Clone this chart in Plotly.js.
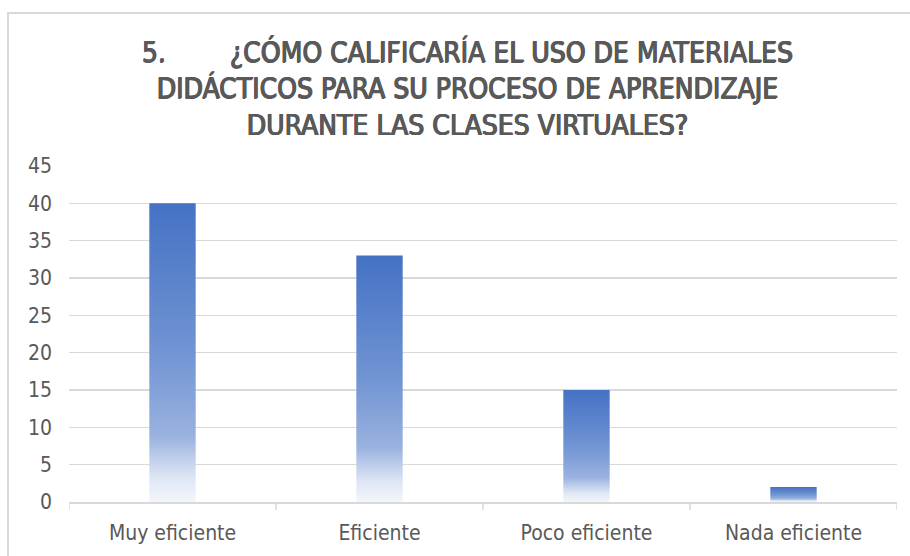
<!DOCTYPE html>
<html>
<head>
<meta charset="utf-8">
<script src="https://cdn.plot.ly/plotly-3.0.1.min.js"></script>
<style>
  html, body { margin: 0; padding: 0; background: #ffffff; }
  #wrap { position: relative; width: 910px; height: 556px; overflow: hidden; }
  #chart { position: absolute; left: 0; top: 0; width: 910px; height: 556px; }
  #frame { position: absolute; left: 7px; top: 12px; width: 920px; height: 560px;
           border-left: 2px solid #d9d9d9; border-top: 2px solid #d9d9d9; pointer-events: none; }
</style>
</head>
<body>
<div id="wrap">
  <div id="chart"></div>
  <div id="frame"></div>
</div>
<script>
const categories = ["Muy eficiente", "Eficiente", "Poco eficiente", "Nada eficiente"];
const values = [40, 33, 15, 2];
const yTicks = [0, 5, 10, 15, 20, 25, 30, 35, 40, 45];
const titleText = "5.\u00a0\u00a0\u00a0\u00a0\u00a0\u00a0\u00a0\u00a0¿CÓMO CALIFICARÍA EL USO DE MATERIALES<br>DIDÁCTICOS PARA SU PROCESO DE APRENDIZAJE<br>DURANTE LAS CLASES VIRTUALES?";

const halfWidth = 0.112;
const gradientScale = [[0, '#f3f6fb'], [0.08, '#dfe7f5'], [0.22, '#9ab2df'], [0.5, '#7194d3'], [1, '#4472c4']];
const fontFam = '"DejaVu Sans Condensed", "Liberation Sans", sans-serif';

const traces = values.map((v, i) => ({
  type: 'scatter',
  mode: 'lines',
  x: [i - halfWidth, i - halfWidth, i + halfWidth, i + halfWidth, i - halfWidth],
  y: [0, v, v, 0, 0],
  fill: 'toself',
  fillgradient: { type: 'vertical', colorscale: gradientScale },
  line: { width: 0, color: 'rgba(0,0,0,0)' },
  hoverinfo: 'skip',
  showlegend: false,
  name: categories[i]
}));

const boundaryTicks = [];
for (let i = 0; i <= categories.length; i++) {
  boundaryTicks.push({
    type: 'line', xref: 'x', yref: 'paper',
    x0: i - 0.5, x1: i - 0.5, y0: 0, y1: -0.024,
    line: { color: '#d9d9d9', width: 1.5 }
  });
}

const layout = {
  width: 910, height: 556,
  paper_bgcolor: 'rgba(0,0,0,0)',
  plot_bgcolor: 'rgba(0,0,0,0)',
  margin: { l: 69, r: 13, t: 166, b: 54 },
  font: { family: fontFam, color: '#595959' },
  title: {
    text: titleText,
    x: 467 / 910, xref: 'container', xanchor: 'center',
    y: 1 - 62 / 556, yref: 'container', yanchor: 'top',
    font: { family: fontFam, size: 28, color: '#595959', weight: 'normal',
            shadow: '0.6px 0 0 #595959, 1.1px 0 0 #595959, 0 0.5px 0 #595959' }
  },
  xaxis: {
    range: [-0.5, categories.length - 0.5],
    tickvals: categories.map((c, i) => i),
    ticktext: categories,
    ticks: '',
    showgrid: false,
    zeroline: false,
    showline: true, linecolor: '#d9d9d9', linewidth: 1.5,
    ticklabelstandoff: 11,
    tickfont: { family: fontFam, size: 21, color: '#595959' },
    fixedrange: true
  },
  yaxis: {
    range: [0, 45],
    tickvals: yTicks,
    ticks: '',
    showgrid: true, gridcolor: '#d9d9d9', gridwidth: 1.5,
    zeroline: false,
    showline: false,
    ticklabelstandoff: 16,
    tickfont: { family: fontFam, size: 21, color: '#595959' },
    fixedrange: true
  },
  shapes: boundaryTicks
};

Plotly.newPlot('chart', traces, layout, { displayModeBar: false, staticPlot: true });
</script>
</body>
</html>
